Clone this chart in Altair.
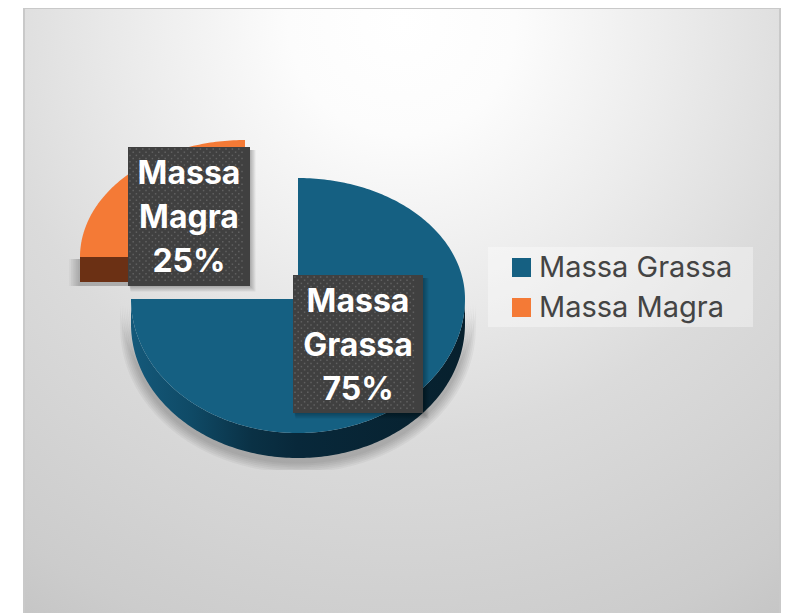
import numpy as np
import pandas as pd
import altair as alt

# ---- chart values ----
names = ["Massa Grassa", "Massa Magra"]
shares = [75, 25]
label_lines = [["Massa", "Grassa"], ["Massa", "Magra"]]

# ---- styling / layout (image pixels) ----
W, H = 773, 605
FONT = "Inter"
BLUE, ORANGE = "#156082", "#F47A36"
SHADOW_LIMIT = 470
PIES = {
    "Massa Grassa": dict(cx=298, cy=299, rx=167, ru=121, rd=134, depth=25),
    "Massa Magra": dict(cx=245, cy=257, rx=165, ru=117, rd=134, depth=25),
}
BOXES = {
    "Massa Grassa": (293, 275, 423, 413),
    "Massa Magra": (128, 147, 250, 286),
}
xs = alt.X("x:Q", axis=None, scale=alt.Scale(domain=[8, 8 + W], range=[0, W], nice=False, zero=False))
ys = alt.Y("y:Q", axis=None, scale=alt.Scale(domain=[8, 8 + H], range=[0, H], nice=False, zero=False))


def wedge(name, start_share, share, grow=0.0, dx=0.0, dy=0.0):
    """Band table of a quarter-aligned pie slice on its elliptical top face."""
    p = PIES[name]
    a0, a1 = start_share * 3.6, (start_share + share) * 3.6
    rx = p["rx"] + grow
    ru, rd = p["ru"] + grow, p["rd"] + grow
    has = lambda lo, hi: a0 < hi and a1 > lo
    rows = []
    for side, lo_up, lo_dn in ((-1, (270, 360), (180, 270)), (1, (0, 90), (90, 180))):
        up, dn = has(*lo_up), has(*lo_dn)
        if not (up or dn):
            continue
        us = np.sin(np.linspace(0, np.pi / 2, 90))
        us = us[::-1] if side < 0 else us
        for u in us:
            c = np.sqrt(max(0.0, 1 - u * u))
            rows.append(dict(
                x=float(p["cx"] + side * u * rx + dx),
                y=float((p["cy"] - ru * c if up else p["cy"]) + dy),
                y2=float((p["cy"] + rd * c if dn else p["cy"]) + dy),
            ))
    df = pd.DataFrame(rows)
    df["name"] = name
    return df


def wall(df, depth):
    out = df.copy()
    out["y"] = df["y2"]
    out["y2"] = df["y2"] + depth
    return out


def area(df, **kw):
    return alt.Chart(df).mark_area(orient="vertical", **kw).encode(x=xs, y=ys, y2="y2:Q")


def rect(x0, y0, x1, y1, **kw):
    d = pd.DataFrame([dict(x=x0, x2=x1, y=y0, y2=y1)])
    return alt.Chart(d).mark_rect(**kw).encode(x=xs, x2="x2:Q", y=ys, y2="y2:Q")


def grad(stops, x2=1, y2=0):
    return alt.LinearGradient(gradient="linear", x1=0, y1=0, x2=x2, y2=y2,
                              stops=[alt.GradientStop(color=c, offset=o) for o, c in stops])


layers = []

# chart area background and frame
bg = alt.RadialGradient(
    gradient="radial", x1=0.5, y1=0.1, r1=0.0, x2=0.5, y2=0.1, r2=1.0,
    stops=[alt.GradientStop(color="#ffffff", offset=0),
           alt.GradientStop(color="#fcfcfc", offset=0.15),
           alt.GradientStop(color="#ececec", offset=0.35),
           alt.GradientStop(color="#dbdbdb", offset=0.55),
           alt.GradientStop(color="#cccccc", offset=0.85),
           alt.GradientStop(color="#c0c0c0", offset=1)])
layers.append(rect(24, 8, 780, 640, color=bg, stroke="#c9c9c9", strokeWidth=2))
layers.append(rect(488, 247, 753, 327, color="#ffffff", opacity=0.36))

# slices
starts = np.cumsum([0] + shares[:-1]).tolist()
faces = {n: wedge(n, s, v) for n, s, v in zip(names, starts, shares)}

# soft shadows beneath the slices, cut off flat as in the source picture
for k in range(1, 7):
    for n, s, v in zip(names, starts, shares):
        sh = wall(wedge(n, s, v, grow=k * 1.8, dy=2), PIES[n]["depth"] + 2)
        sh["y2"] = sh["y2"].clip(upper=SHADOW_LIMIT)
        sh["y"] = sh["y"].clip(upper=SHADOW_LIMIT)
        layers.append(area(sh, color="#000000", opacity=0.04))

# side walls
layers.append(area(wall(faces["Massa Grassa"], PIES["Massa Grassa"]["depth"]),
                   color=grad([(0, "#14597a"), (0.18, "#0f4a66"), (0.36, "#0a3145"),
                               (0.5, "#08283a"), (1, "#07202d")])))
layers.append(area(wall(faces["Massa Magra"], PIES["Massa Magra"]["depth"]), color="#6B3014"))

# top faces, with the legend
top = pd.concat([faces[n] for n in names])
layers.append(alt.Chart(top).mark_area(orient="vertical").encode(
    x=xs, y=ys, y2="y2:Q",
    color=alt.Color("name:N", scale=alt.Scale(domain=names, range=[BLUE, ORANGE]),
                    legend=alt.Legend(orient="none", legendX=488, legendY=234, title=None,
                                      symbolType="square", symbolSize=361, symbolStrokeWidth=0,
                                      labelFont=FONT, labelFontSize=29, labelColor="#444444",
                                      labelLimit=300, labelOffset=3, rowPadding=10,
                                      padding=11, symbolOpacity=1))))

# data label boxes
for n, v in zip(names, shares):
    x0, y0, x1, y1 = BOXES[n]
    for k in range(1, 6):
        layers.append(rect(x0 + 1 + k * 0.3, y0 + 3, x1 + k * 1.1, y1 + k * 1.1,
                           color="#000000", opacity=0.055))
    layers.append(rect(x0, y0, x1, y1, color="#404040"))
    dots = pd.DataFrame([
        dict(x=x0 + 2 + (c + (r % 2) * 0.5) * 6.4, y=y0 + 2 + r * 3.2)
        for r in range(int((y1 - y0 - 2) / 3.2))
        for c in range(int((x1 - x0 - 4) / 6.4))
    ])
    layers.append(alt.Chart(dots).mark_square(size=2.2, color="#787878", opacity=0.6).encode(x=xs, y=ys))

labels = pd.DataFrame([
    dict(name=n, text="\n".join(lines + [f"{v}%"]),
         x=(BOXES[n][0] + BOXES[n][2]) / 2, y=(BOXES[n][1] + BOXES[n][3]) / 2 - 42.5)
    for n, v, lines in zip(names, shares, label_lines)
])
layers.append(alt.Chart(labels).mark_text(
    font=FONT, fontSize=32, fontWeight=700, color="#ffffff", lineBreak="\n", lineHeight=44,
    align="center", baseline="middle").encode(x=xs, y=ys, text="text:N"))

chart = alt.layer(*layers).properties(
    width=W, height=H, padding=0, autosize=alt.AutoSizeParams(type="none"), background="#ffffff"
).configure_view(stroke=None)

chart.save("out.html", embed_options={"renderer": "svg", "actions": False})
